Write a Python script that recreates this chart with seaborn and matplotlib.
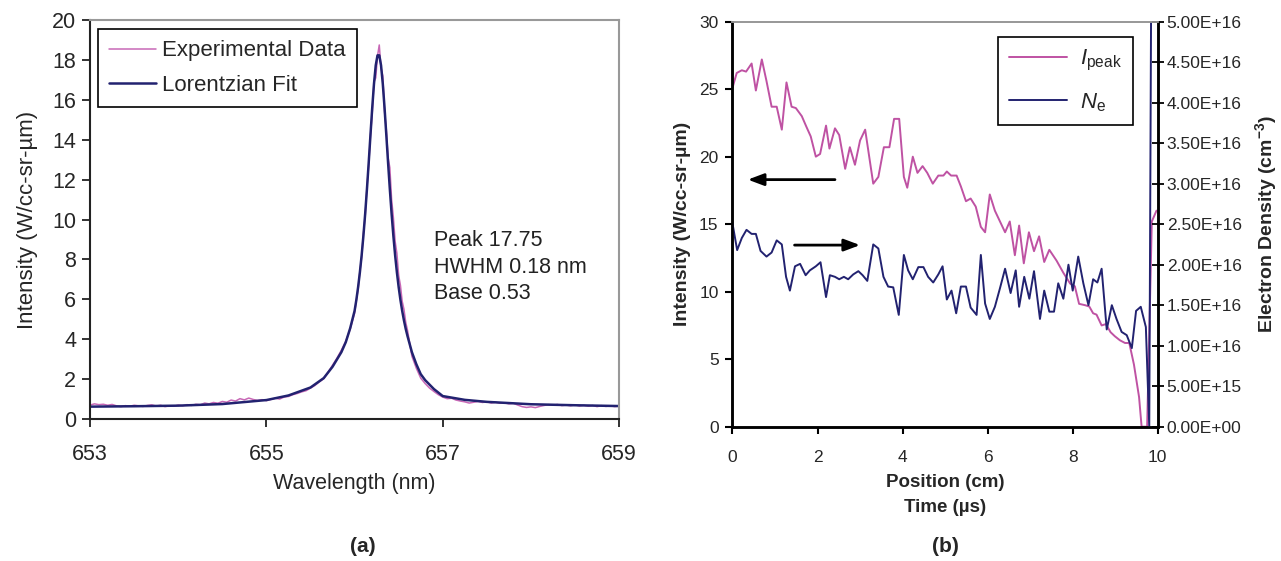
import numpy as np
import matplotlib
matplotlib.use("Agg")
import matplotlib.pyplot as plt
import seaborn as sns
from matplotlib.ticker import MultipleLocator, FuncFormatter

# ---- panel (a): H-alpha line profile ----
exp_wl = np.concatenate([
    np.arange(653.0, 655.96, 0.05),
    np.arange(656.0, 656.61, 0.02),
    np.arange(656.65, 659.01, 0.05),
])
exp_intensity = [
    # 653.00 - 655.95
    0.70, 0.76, 0.72, 0.74, 0.69, 0.73, 0.66, 0.62, 0.67, 0.64,
    0.69, 0.66, 0.63, 0.68, 0.71, 0.65, 0.69, 0.62, 0.66, 0.64,
    0.70, 0.66, 0.72, 0.68, 0.74, 0.71, 0.80, 0.76, 0.83, 0.79,
    0.88, 0.84, 0.95, 0.90, 1.02, 0.96, 1.05, 0.98, 0.93, 0.97,
    0.92, 0.98, 1.04, 1.00, 1.10, 1.13, 1.22, 1.28, 1.36, 1.42,
    1.55, 1.68, 1.86, 2.02, 2.35, 2.70, 3.05, 3.45, 3.90, 4.50,
    # 656.00 - 656.60
    5.30, 5.95, 6.50, 7.40, 8.10, 9.30, 10.15, 11.60, 12.70, 14.20,
    15.30, 16.90, 17.10, 18.20, 18.75, 17.60, 17.20, 15.40, 14.50, 13.10,
    12.60, 11.00, 10.10, 8.90, 8.30, 7.20, 6.70, 5.90, 5.50, 4.85,
    4.45,
    # 656.65 - 659.00
    3.15, 2.55, 2.05, 1.78, 1.55, 1.38, 1.22, 1.10, 1.02, 1.04,
    0.95, 0.90, 0.86, 0.80, 0.84, 0.88, 0.83, 0.86, 0.80, 0.84,
    0.79, 0.81, 0.76, 0.79, 0.70, 0.62, 0.58, 0.61, 0.57, 0.63,
    0.68, 0.72, 0.69, 0.73, 0.67, 0.70, 0.66, 0.71, 0.65, 0.69,
    0.64, 0.68, 0.62, 0.67, 0.63, 0.66, 0.62, 0.65,
]

fit_wl = [653.0, 653.5, 654.0, 654.5, 655.0, 655.25, 655.5, 655.65, 655.75,
          655.85, 655.9, 655.95,
          656.00, 656.02, 656.04, 656.06, 656.08, 656.10, 656.12, 656.14,
          656.16, 656.18, 656.20, 656.22, 656.24, 656.26, 656.28, 656.30,
          656.32, 656.34, 656.36, 656.38, 656.40, 656.42, 656.44, 656.46,
          656.48, 656.50, 656.52, 656.54, 656.56, 656.58, 656.60,
          656.65, 656.7, 656.75, 656.8, 656.9, 657.0, 657.25, 657.5, 657.75,
          658.0, 658.5, 659.0]
fit_intensity = [0.62, 0.64, 0.67, 0.75, 0.95, 1.18, 1.58, 2.05, 2.62,
                 3.35, 3.85, 4.55,
                 5.42, 5.97, 6.61, 7.35, 8.20, 9.18, 10.28, 11.51,
                 12.84, 14.23, 15.59, 16.80, 17.73, 18.23, 18.23, 17.73,
                 16.80, 15.59, 14.23, 12.84, 11.51, 10.28, 9.18, 8.20,
                 7.35, 6.61, 5.97, 5.42, 4.94, 4.52, 4.16,
                 3.35, 2.75, 2.25, 1.95, 1.50, 1.15, 0.96, 0.86, 0.80,
                 0.74, 0.69, 0.65]

# ---- panel (b): peak intensity and electron density vs position ----
ipeak_pos = [0.0, 0.1, 0.22, 0.32, 0.45, 0.55, 0.69, 0.8, 0.92, 1.04,
             1.16, 1.27, 1.39, 1.49, 1.63, 1.74, 1.84, 1.96, 2.06, 2.2,
             2.28, 2.41, 2.51, 2.65, 2.76, 2.88, 3.0, 3.12, 3.31, 3.43,
             3.56, 3.69, 3.8, 3.92, 4.03, 4.11, 4.24, 4.35, 4.47, 4.58,
             4.71, 4.84, 4.96, 5.04, 5.14, 5.27, 5.37, 5.49, 5.6, 5.72,
             5.84, 5.94, 6.05, 6.17, 6.29, 6.41, 6.52, 6.64, 6.74, 6.85,
             6.97, 7.09, 7.21, 7.33, 7.45, 7.62, 7.78, 7.94, 8.05, 8.15,
             8.29, 8.39, 8.48, 8.56, 8.68, 8.78, 8.89, 8.99, 9.11, 9.23,
             9.33, 9.44, 9.56, 9.62, 9.75, 9.86, 9.97]
ipeak = [25.1, 26.2, 26.4, 26.3, 26.9, 24.9, 27.2, 25.6, 23.7, 23.7,
         22.0, 25.5, 23.7, 23.6, 23.0, 22.2, 21.5, 20.0, 20.2, 22.3,
         20.6, 22.1, 21.6, 19.1, 20.7, 19.4, 21.2, 22.0, 18.0, 18.5,
         20.7, 20.7, 22.8, 22.8, 18.5, 17.7, 20.0, 18.8, 19.3, 18.8,
         18.0, 18.6, 18.6, 18.9, 18.6, 18.6, 17.8, 16.7, 16.9, 16.3,
         14.8, 14.4, 17.2, 16.0, 15.2, 14.4, 15.2, 12.7, 14.9, 12.1,
         14.4, 13.0, 14.1, 12.2, 13.1, 12.3, 11.4, 10.6, 10.4, 9.1,
         9.0, 8.9, 8.4, 8.3, 7.5, 7.6, 7.0, 6.7, 6.4, 6.2,
         6.2, 4.6, 2.2, 0.0, 0.0, 15.2, 16.0]

ne_pos = [0.0, 0.11, 0.22, 0.33, 0.45, 0.55, 0.66, 0.8, 0.92, 1.04,
          1.16, 1.26, 1.35, 1.47, 1.59, 1.72, 1.82, 1.96, 2.07, 2.2,
          2.29, 2.41, 2.51, 2.62, 2.72, 2.84, 2.96, 3.06, 3.17, 3.31,
          3.43, 3.55, 3.66, 3.78, 3.91, 4.03, 4.13, 4.24, 4.37, 4.49,
          4.6, 4.72, 4.84, 4.94, 5.04, 5.15, 5.26, 5.37, 5.49, 5.6,
          5.74, 5.84, 5.94, 6.05, 6.17, 6.29, 6.41, 6.54, 6.66, 6.74,
          6.86, 6.98, 7.09, 7.23, 7.33, 7.45, 7.56, 7.66, 7.78, 7.9,
          8.0, 8.13, 8.25, 8.37, 8.48, 8.58, 8.68, 8.8, 8.92, 9.03,
          9.15, 9.27, 9.39, 9.49, 9.6, 9.72, 9.8, 9.85]
ne = [2.51e16, 2.18e16, 2.33e16, 2.43e16, 2.38e16, 2.38e16, 2.17e16, 2.10e16, 2.15e16, 2.30e16,
      2.25e16, 1.85e16, 1.68e16, 1.98e16, 2.01e16, 1.87e16, 1.93e16, 1.98e16, 2.03e16, 1.60e16,
      1.87e16, 1.85e16, 1.82e16, 1.85e16, 1.82e16, 1.88e16, 1.92e16, 1.87e16, 1.80e16, 2.25e16,
      2.20e16, 1.85e16, 1.73e16, 1.72e16, 1.38e16, 2.12e16, 1.93e16, 1.82e16, 1.97e16, 1.97e16,
      1.85e16, 1.78e16, 1.88e16, 1.98e16, 1.57e16, 1.68e16, 1.40e16, 1.73e16, 1.73e16, 1.47e16,
      1.38e16, 2.12e16, 1.52e16, 1.33e16, 1.48e16, 1.71e16, 1.95e16, 1.65e16, 1.93e16, 1.48e16,
      1.85e16, 1.58e16, 1.92e16, 1.33e16, 1.68e16, 1.42e16, 1.42e16, 1.77e16, 1.58e16, 2.00e16,
      1.68e16, 2.10e16, 1.77e16, 1.50e16, 1.82e16, 1.78e16, 1.95e16, 1.20e16, 1.50e16, 1.33e16,
      1.17e16, 1.13e16, 0.97e16, 1.43e16, 1.48e16, 1.23e16, 0.0, 6.0e16]

PINK = "#bf52a3"
PINK_A = "#c868b6"
NAVY = "#222270"

sns.set_theme(style="white")
plt.rcParams["font.family"] = ["Liberation Sans", "DejaVu Sans"]
plt.rcParams["mathtext.fontset"] = "custom"
plt.rcParams["mathtext.rm"] = "Liberation Sans"
plt.rcParams["mathtext.it"] = "Liberation Sans:italic"
plt.rcParams["mathtext.bf"] = "Liberation Sans:bold"

fig = plt.figure(figsize=(12.81, 5.61), dpi=100)
ax_a = fig.add_axes([0.0703, 0.2531, 0.4130, 0.7112])
ax_b = fig.add_axes([0.5718, 0.2394, 0.3320, 0.7220])

# ---------------- panel (a) ----------------
sns.lineplot(x=exp_wl, y=exp_intensity, ax=ax_a, color=PINK_A, lw=1.1,
             sort=False, estimator=None, legend=False)
sns.lineplot(x=fit_wl, y=fit_intensity, ax=ax_a, color=NAVY, lw=1.8,
             sort=False, estimator=None, legend=False)
ax_a.set_xlim(653, 659)
ax_a.set_ylim(0, 20)
ax_a.set_xticks([653, 655, 657, 659])
ax_a.yaxis.set_major_locator(MultipleLocator(2))
ax_a.tick_params(axis="both", labelsize=15.5, direction="out", length=6,
                 width=1.3, color="#222222", left=True, bottom=True)
ax_a.tick_params(axis="x", pad=12)
ax_a.tick_params(axis="y", pad=4)
ax_a.set_xlabel("Wavelength (nm)", fontsize=15.5, labelpad=6)
ax_a.set_ylabel("Intensity (W/cc-sr-\u00b5m)", fontsize=16, labelpad=10)
for side in ["left", "bottom"]:
    ax_a.spines[side].set_color("#222222")
    ax_a.spines[side].set_linewidth(1.5)
for side in ["top", "right"]:
    ax_a.spines[side].set_color("#999999")
    ax_a.spines[side].set_linewidth(1.5)
leg_a = ax_a.legend(ax_a.lines[:2], ["Experimental Data", "Lorentzian Fit"],
                    loc="upper left", bbox_to_anchor=(0.015, 0.977),
                    borderaxespad=0, fontsize=16, fancybox=False,
                    edgecolor="black", framealpha=1, handlelength=2.1,
                    handletextpad=0.3, labelspacing=0.6, borderpad=0.5)
leg_a.get_frame().set_linewidth(1.2)
ax_a.text(656.9, 7.6, "Peak 17.75\nHWHM 0.18 nm\nBase 0.53", fontsize=15.5,
          va="center", ha="left", linespacing=1.35, color="#222222")

# ---------------- panel (b) ----------------
sns.lineplot(x=ipeak_pos, y=ipeak, ax=ax_b, color=PINK, lw=1.4,
             sort=False, estimator=None, legend=False)
ax_b.set_xlim(0, 10)
ax_b.set_ylim(0, 30)
ax_b.xaxis.set_major_locator(MultipleLocator(2))
ax_b.yaxis.set_major_locator(MultipleLocator(5))
ax_b.tick_params(axis="both", labelsize=12.5, direction="out", length=5,
                 width=1.5, color="black", left=True, bottom=True)
ax_b.tick_params(axis="x", pad=12)
ax_b.tick_params(axis="y", pad=5)
ax_b.set_xlabel("Position (cm)\nTime (\u00b5s)", fontsize=13.5, fontweight="bold",
                linespacing=1.65, labelpad=6)
ax_b.set_ylabel("Intensity (W/cc-sr-\u00b5m)", fontsize=14, fontweight="bold",
                labelpad=6)

ax_n = ax_b.twinx()
sns.lineplot(x=ne_pos, y=ne, ax=ax_n, color=NAVY, lw=1.4,
             sort=False, estimator=None, legend=False)
ax_n.set_ylim(0, 5e16)
ax_n.set_xlim(0, 10)
ax_n.yaxis.set_major_locator(MultipleLocator(5e15))
ax_n.yaxis.set_major_formatter(FuncFormatter(lambda v, p: f"{v:.2E}"))
ax_n.tick_params(axis="y", labelsize=12.5, direction="inout", length=9,
                 width=1.3, color="black", right=True, pad=2)
ax_n.set_ylabel(r"Electron Density (cm$^{\mathbf{-3}}$)", fontsize=14,
                fontweight="bold", labelpad=8)

for ax in (ax_b, ax_n):
    for side in ["left", "bottom", "right"]:
        ax.spines[side].set_color("black")
        ax.spines[side].set_linewidth(1.8)
    ax.spines["top"].set_color("#999999")
    ax.spines["top"].set_linewidth(1.3)

leg_b = ax_n.legend([ax_b.lines[0], ax_n.lines[0]],
                    [r"$\mathit{I}_{\mathrm{peak}}$", r"$\mathit{N}_{\mathrm{e}}$"],
                    loc="upper right", bbox_to_anchor=(0.942, 0.962),
                    borderaxespad=0, fontsize=16, fancybox=False,
                    edgecolor="black", framealpha=1, handlelength=2.6,
                    handletextpad=0.6, labelspacing=0.8, borderpad=0.5)
leg_b.get_frame().set_linewidth(1.2)

arrow = dict(arrowstyle="-|>,head_length=0.8,head_width=0.3", color="black",
             lw=2.0, shrinkA=0, shrinkB=0)
ax_b.annotate("", xy=(0.36, 18.3), xytext=(2.41, 18.3), arrowprops=arrow)
ax_b.annotate("", xy=(3.0, 13.45), xytext=(1.46, 13.45), arrowprops=arrow)

fig.text(363 / 1281, 1 - 546 / 561, "(a)", fontsize=15, fontweight="bold",
         ha="center", va="center")
fig.text(945 / 1281, 1 - 546 / 561, "(b)", fontsize=15, fontweight="bold",
         ha="center", va="center")

fig.savefig("out.png", dpi=100)
